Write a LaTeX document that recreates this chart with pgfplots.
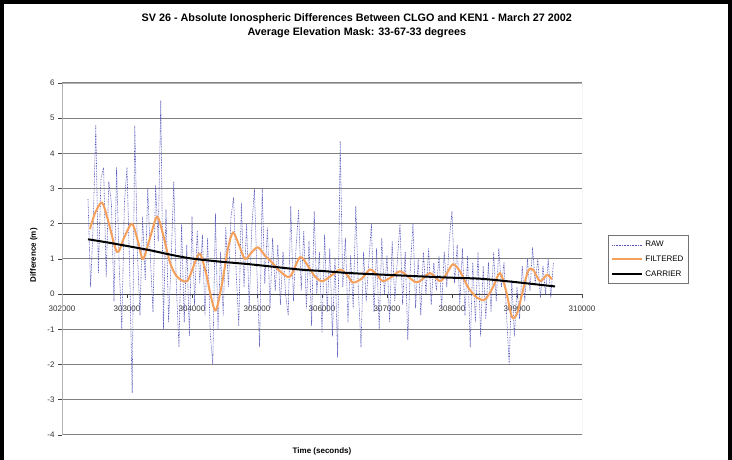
\documentclass[border=0pt]{standalone}
\usepackage{fontspec}
\setmainfont{Liberation Sans}
\usepackage{pgfplots}
\usepackage{pgfplotstable}
\pgfplotsset{compat=1.18}
\definecolor{rawc}{RGB}{85,85,185}
\definecolor{filtc}{RGB}{245,160,90}
\definecolor{gridc}{RGB}{128,128,128}
\pgfplotstableread{
t y
302400 2.7
302440 0.2
302480 2.0
302520 4.8
302560 0.6
302600 3.3
302640 3.6
302680 0.5
302720 3.2
302760 2.6
302800 -0.2
302840 3.6
302880 0.8
302920 -1.0
302960 2.6
303000 3.6
303040 0.8
303080 -2.8
303120 4.8
303160 1.2
303200 -0.6
303240 2.2
303280 0.4
303320 3.0
303360 1.0
303400 -0.5
303440 3.1
303480 1.5
303520 5.5
303560 -1.0
303600 2.4
303640 -0.8
303680 1.0
303720 3.2
303760 0.2
303800 -1.5
303840 2.0
303880 -0.8
303920 1.4
303960 -1.2
304000 2.2
304040 -0.3
304080 1.8
304120 0.3
304160 1.7
304200 -0.6
304240 1.6
304280 -1.1
304320 -2.0
304360 2.3
304400 -1.0
304440 1.2
304480 -0.6
304520 1.9
304560 0.2
304600 2.2
304640 2.75
304680 0.6
304720 -0.9
304760 2.6
304800 0.2
304840 2.0
304880 -0.4
304920 1.9
304960 3.0
305000 0.6
305040 -1.5
305080 3.0
305120 0.3
305160 1.9
305200 -0.4
305240 1.6
305280 0.1
305320 1.4
305360 -0.3
305400 1.2
305440 0.0
305480 -0.6
305520 2.5
305560 -0.2
305600 1.3
305640 2.4
305680 0.1
305720 1.8
305760 -0.4
305800 1.5
305840 -0.9
305880 2.35
305920 0.0
305960 1.2
306000 -1.1
306040 1.7
306080 -0.5
306120 1.3
306160 -1.2
306200 1.0
306240 -1.8
306280 4.35
306320 0.2
306360 1.6
306400 -0.8
306440 1.1
306480 -0.4
306520 2.5
306560 0.1
306600 -1.5
306640 1.2
306680 -0.2
306720 0.9
306760 2.0
306800 -0.5
306840 1.3
306880 -1.0
306920 1.6
306960 0.0
307000 1.1
307040 -0.8
307080 1.5
307120 -0.2
307160 1.0
307200 2.0
307240 -0.3
307280 1.2
307320 -1.3
307360 0.8
307400 2.0
307440 -0.4
307480 1.0
307520 -0.6
307560 1.2
307600 0.0
307640 1.3
307680 -0.3
307720 0.9
307760 0.1
307800 1.1
307840 -0.4
307880 1.2
307920 0.2
307960 1.6
308000 2.35
308040 0.3
308080 1.4
308120 -0.3
308160 1.3
308200 -0.6
308240 1.1
308280 -1.5
308320 0.9
308360 -0.8
308400 1.2
308440 -1.2
308480 0.8
308520 -0.7
308560 0.9
308600 -0.5
308640 1.2
308680 -0.2
308720 1.3
308760 0.2
308800 0.9
308840 -0.6
308880 -2.0
308920 0.4
308960 -1.2
309000 0.2
309040 -0.7
309080 0.8
309120 -0.2
309160 1.0
309200 0.1
309240 1.33
309280 0.3
309320 1.0
309360 -0.1
309400 0.8
309440 0.0
309480 1.0
309520 -0.1
309560 0.9
}\rawdata
\pgfplotstableread{
t y
302431 1.85
302508 2.3
302615 2.6
302708 2.1
302846 1.2
302954 1.6
303077 2.0
303169 1.5
303246 1.0
303354 1.6
303462 2.2
303554 1.7
303662 0.9
303769 0.5
303923 0.37
304046 0.9
304123 1.15
304215 0.6
304308 -0.2
304369 -0.45
304462 0.3
304554 1.3
304631 1.75
304723 1.4
304815 1.0
304923 1.2
305015 1.33
305123 1.1
305231 0.9
305354 0.65
305508 0.5
305662 1.05
305785 0.8
305892 0.5
306000 0.37
306123 0.5
306277 0.7
306385 0.55
306477 0.33
306615 0.45
306738 0.7
306846 0.55
306938 0.37
307077 0.5
307200 0.65
307323 0.5
307431 0.35
307508 0.37
307662 0.6
307815 0.37
307923 0.6
308015 0.85
308123 0.65
308246 0.2
308385 -0.1
308508 -0.15
308631 0.2
308738 0.6
308831 0.1
308923 -0.65
309000 -0.55
309077 0.0
309169 0.65
309246 0.7
309354 0.37
309462 0.55
309538 0.42
}\filtdata
\pgfplotstableread{
t y
302400 1.56
302700 1.47
302970 1.38
303350 1.25
303650 1.13
303970 1.02
304400 0.93
304890 0.85
305660 0.70
306000 0.66
306430 0.60
307350 0.52
307970 0.47
308430 0.44
308890 0.36
309585 0.22
}\carrdata
\begin{document}
\begin{tikzpicture}[x=1pt,y=1pt]
\begin{axis}[
  at={(62pt,25pt)}, anchor=south west,
  scale only axis, width=520pt, height=352pt,
  xmin=302000, xmax=310000, ymin=-4, ymax=6,
  axis x line=middle, axis y line=left,
  axis line style={-, draw=black!75, line width=0.8pt},
  hide obscured x ticks=false, hide obscured y ticks=false,
  xtick={302000,303000,...,310000}, ytick={-4,-3,...,6},
  xticklabel style={yshift=-4pt, /pgf/number format/.cd, fixed, 1000 sep={}},
  scaled x ticks=false,
  tick label style={font=\fontsize{8}{9.5}\selectfont, text=black!80},
  tick align=outside, major tick length=4pt,
  tick style={black!75, line width=0.6pt},
  ymajorgrids, grid style={gridc, line width=1pt},
  /pgf/number format/assume math mode=true,
  title={SV 26 - Absolute Ionospheric Differences Between CLGO and KEN1 - March 27 2002\\Average Elevation Mask: 33-67-33 degrees},
  title style={align=center, at={(axis description cs:0.567,1.147)}, anchor=center, font=\bfseries\fontsize{10.8}{14}\selectfont},
  xlabel={Time (seconds)},
  every axis x label/.style={at={(axis description cs:0.5,-0.048)}, anchor=center, font=\bfseries\fontsize{8}{10}\selectfont},
  ylabel={Difference (m)},
  every axis y label/.style={at={(axis description cs:-0.054,0.511)}, rotate=90, anchor=center, font=\bfseries\fontsize{8}{10}\selectfont},
  legend style={at={(axis description cs:1.05,0.568)}, anchor=north west, draw=black!55, line width=0.8pt, font=\fontsize{8}{9.5}\selectfont, legend cell align=left, row sep=3.5pt, inner xsep=3pt, inner ysep=4pt},
  legend image code/.code={\draw[#1] (0pt,0pt) -- (30pt,0pt);},
]
\draw[black!30, line width=0.8pt] (rel axis cs:0,0) rectangle (rel axis cs:1,1);
\addplot[rawc, line width=0.6pt, dash pattern=on 0.8pt off 0.8pt] table[x=t,y=y] {\rawdata};
\addlegendentry{RAW}
\addplot[filtc, line width=2pt, smooth, tension=0.5] table[x=t,y=y] {\filtdata};
\addlegendentry{FILTERED}
\addplot[black, line width=2pt, smooth] table[x=t,y=y] {\carrdata};
\addlegendentry{CARRIER}
\end{axis}
\draw[black, line width=4pt] (2pt,-10pt) -- (2pt,458pt) -- (730pt,458pt) -- (730pt,-10pt);
\pgfresetboundingbox
\useasboundingbox (0pt,0pt) rectangle (732pt,460pt);
\end{tikzpicture}
\end{document}
